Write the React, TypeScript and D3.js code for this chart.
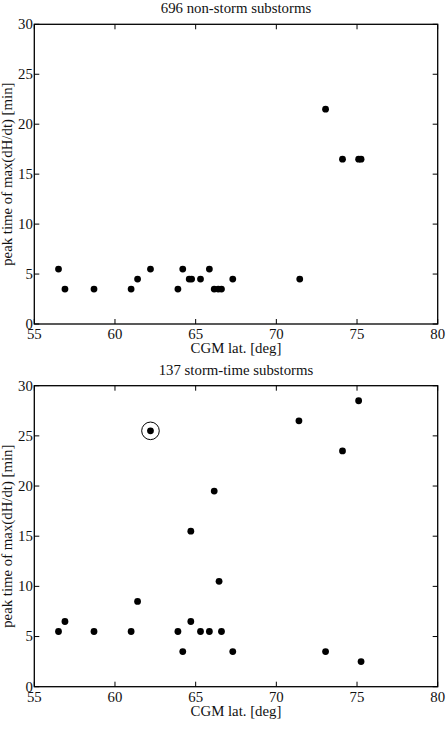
import React from "react";
import * as d3 from "d3";

// Non-storm substorms: CGM latitude [deg] and peak time of max(dH/dt) [min]
const nonStormLat = [56.5, 56.9, 58.7, 61.0, 61.4, 62.2, 63.9, 64.2, 64.6, 64.75, 65.3, 65.85, 66.15, 66.4, 66.6, 67.3, 71.45, 73.05, 74.1, 75.1, 75.25];
const nonStormPeak = [5.5, 3.5, 3.5, 3.5, 4.5, 5.5, 3.5, 5.5, 4.5, 4.5, 4.5, 5.5, 3.5, 3.5, 3.5, 4.5, 4.5, 21.5, 16.5, 16.5, 16.5];

// Storm-time substorms
const stormLat = [56.5, 56.9, 58.7, 61.0, 61.4, 62.2, 63.9, 64.2, 64.7, 64.7, 65.3, 65.85, 66.15, 66.45, 66.6, 67.3, 71.4, 73.05, 74.1, 75.1, 75.25];
const stormPeak = [5.5, 6.5, 5.5, 5.5, 8.5, 25.5, 5.5, 3.5, 6.5, 15.5, 5.5, 5.5, 19.5, 10.5, 5.5, 3.5, 26.5, 3.5, 23.5, 28.5, 2.5];
// Highlighted event (index into the storm-time arrays)
const stormHighlight = [5];

const xTicks = [55, 60, 65, 70, 75, 80];
const yTicks = [0, 5, 10, 15, 20, 25, 30];
const xDomain: [number, number] = [55, 80];
const yDomain: [number, number] = [0, 30];

const titles = ["696 non-storm substorms", "137 storm-time substorms"];
const xLabel = "CGM lat. [deg]";
const yLabel = "peak time of max(dH/dt) [min]";

const FONT = "'Liberation Serif', 'DejaVu Serif', serif";
const FS = 14.8;
const INK = "#111";

type PanelProps = {
  title: string;
  lat: number[];
  peak: number[];
  highlight?: number[];
  top: number;
  bottom: number;
};

function Panel({ title, lat, peak, highlight = [], top, bottom }: PanelProps) {
  const left = 34.3;
  const right = 437.7;
  const x = d3.scaleLinear().domain(xDomain).range([left, right]);
  const y = d3.scaleLinear().domain(yDomain).range([bottom, top]);
  const tick = 5;
  const midY = (top + bottom) / 2;
  return (
    <g>
      <text x={(left + right) / 2} y={top - 11} textAnchor="middle" fontSize={FS} fontFamily={FONT} fill={INK}>
        {title}
      </text>
      <rect x={left} y={top} width={right - left} height={bottom - top} fill="none" stroke="#000" strokeWidth={1.3} />
      {xTicks.map((t) => (
        <g key={"x" + t}>
          <line x1={x(t)} x2={x(t)} y1={bottom} y2={bottom - tick} stroke="#000" strokeWidth={1} />
          <line x1={x(t)} x2={x(t)} y1={top} y2={top + tick} stroke="#000" strokeWidth={1} />
          <text x={x(t)} y={bottom + 15} textAnchor="middle" fontSize={FS} fontFamily={FONT} fill={INK}>
            {t}
          </text>
        </g>
      ))}
      {yTicks.map((t) => (
        <g key={"y" + t}>
          <line x1={left} x2={left + tick} y1={y(t)} y2={y(t)} stroke="#000" strokeWidth={1} />
          <line x1={right} x2={right - tick} y1={y(t)} y2={y(t)} stroke="#000" strokeWidth={1} />
          <text x={left - 1.5} y={y(t) + 4.8} textAnchor="end" fontSize={FS} fontFamily={FONT} fill={INK}>
            {t}
          </text>
        </g>
      ))}
      <text x={(left + right) / 2} y={bottom + 28.8} textAnchor="middle" fontSize={FS} fontFamily={FONT} fill={INK}>
        {xLabel}
      </text>
      <text
        transform={`translate(12, ${midY}) rotate(-90)`}
        textAnchor="middle"
        fontSize={FS}
        fontFamily={FONT}
        fill={INK}
      >
        {yLabel}
      </text>
      {lat.map((v, i) => (
        <circle key={"p" + i} cx={x(v)} cy={y(peak[i])} r={3.4} fill="#000" />
      ))}
      {highlight.map((i) => (
        <circle key={"h" + i} cx={x(lat[i])} cy={y(peak[i])} r={8.8} fill="none" stroke="#000" strokeWidth={1} />
      ))}
    </g>
  );
}

export default function App() {
  return (
    <svg
      width={447}
      height={729}
      style={{ position: "absolute", left: 0, top: 0, background: "#fff" }}
    >
      <rect width={447} height={729} fill="#fff" />
      <Panel title={titles[0]} lat={nonStormLat} peak={nonStormPeak} top={24.3} bottom={324} />
      <Panel title={titles[1]} lat={stormLat} peak={stormPeak} highlight={stormHighlight} top={385.7} bottom={686.7} />
    </svg>
  );
}
